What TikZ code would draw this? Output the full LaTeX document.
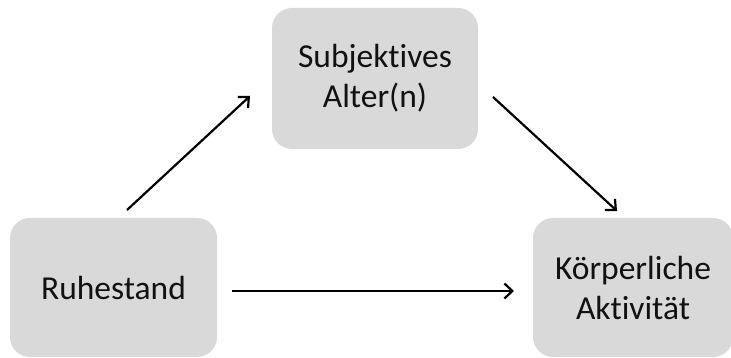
\documentclass[tikz,border=0pt]{standalone}
\usepackage{fontspec}
\setmainfont[Ligatures={NoCommon,NoContextual}]{Carlito}
\usetikzlibrary{arrows.meta}
\definecolor{boxgray}{HTML}{D9D9D9}
\definecolor{txt}{HTML}{111111}
\tikzset{
  box/.style={draw=none, fill=boxgray, rounded corners=20pt, align=center,
    font=\fontsize{33.5}{40}\selectfont, text=txt, inner sep=0pt},
  conn/.style={line width=2.2pt, -{Straight Barb[length=8pt,width=15pt,line width=2.2pt]}}
}
\begin{document}
\begin{tikzpicture}[x=1pt,y=-1pt]
\useasboundingbox (0,0) rectangle (731,358);
\node[box, minimum width=206pt, minimum height=141pt] (alter) at (375,78.5) {Subjektives\\Alter(n)};
\node[box, minimum width=207pt, minimum height=139pt] (ruhe) at (113.5,287.5) {Ruhestand};
\node[box, minimum width=200pt, minimum height=139pt] (akt) at (633,287.5) {Körperliche\\Aktivität};
\coordinate (s1) at (127,210);
\coordinate (e1) at (250,96);
\coordinate (s2) at (493,97);
\coordinate (e2) at (617,211);
\coordinate (s3) at (232,291);
\coordinate (e3) at (514,291);
\draw[conn] (s1) -- (e1);
\draw[conn] (s2) -- (e2);
\draw[conn] (s3) -- (e3);
\end{tikzpicture}
\end{document}
